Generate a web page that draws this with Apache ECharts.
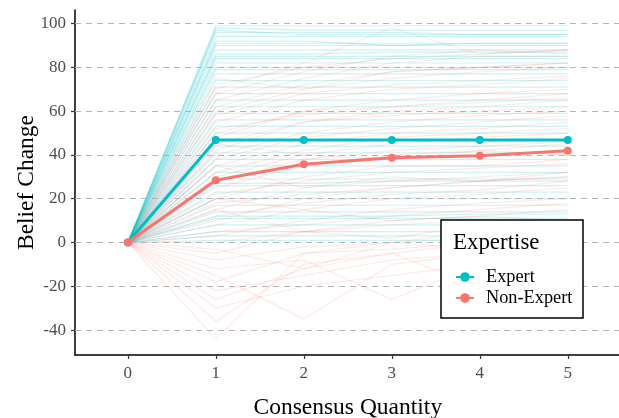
<!DOCTYPE html>
<html><head><meta charset="utf-8">
<script src="https://cdn.jsdelivr.net/npm/echarts@6/dist/echarts.min.js"></script>
<style>html,body{margin:0;padding:0;background:#fff}#c{width:619px;height:418px}</style>
</head><body><div id="c"></div>
<script>
const categories = [0, 1, 2, 3, 4, 5];
const yTicks = [-40, -20, 0, 20, 40, 60, 80, 100];
const expertMean = [0, 46.8, 46.8, 46.8, 46.8, 46.8];
const nonExpertMean = [0, 28.4, 35.7, 38.7, 39.6, 41.9];

const expertIndividuals = [
  [0,99,99,99,99,99],[0,98,97,97,97,97],[0,96,96,96,95,95],[0,94,94,94,94,94],
  [0,92,92,90,90,90],[0,90,90,90,91,91],[0,88,88,88,88,88],[0,86,86,87,87,87],
  [0,84,84,84,84,84],[0,82,82,82,82,82],[0,80,80,80,80,80],[0,77,77,77,77,77],
  [0,74,74,74,74,74],[0,71,71,71,71,71],[0,68,68,68,68,68],[0,65,65,65,65,65],
  [0,62,62,62,62,62],[0,59,59,59,59,59],[0,56,56,56,56,56],[0,53,53,53,53,53],
  [0,50,50,50,50,50],[0,47,47,47,47,47],[0,44,44,44,44,44],[0,41,41,41,41,41],
  [0,38,38,38,38,38],[0,35,35,35,35,35],[0,32,32,32,32,32],[0,29,29,29,29,29],
  [0,26,26,26,26,26],[0,23,23,23,23,23],[0,20,20,20,20,20],[0,17,17,17,17,17],
  [0,14,14,14,14,14],[0,11,11,11,11,11],[0,8,8,8,8,8],[0,5,5,5,5,5],
  [0,3,3,3,3,3],[0,1,1,1,1,1],[0,27,27,28,28,28],[0,12,12,12,13,13],
  [0,97,95,95,95,95],[0,91,91,91,91,91],[0,85,85,85,85,85],[0,79,79,79,79,79]
];

const nonExpertIndividuals = [
  [0,-44,-5,0,2,0],[0,-36,-10,-5,0,0],[0,-30,-20,-15,-10,-8],[0,-26,-12,0,5,5],
  [0,-22,-15,-8,-5,-2],[0,-18,-5,-3,0,0],[0,-15,-35,-10,-5,-3],[0,-12,-8,-26,-10,-5],
  [0,-8,-2,0,-3,0],[0,-5,5,8,10,10],[0,-3,-12,-5,-20,-8],[0,0,5,10,12,15],
  [0,3,10,15,18,20],[0,5,8,12,15,18],[0,8,15,20,22,25],[0,10,20,25,28,30],
  [0,12,18,22,24,28],[0,15,25,28,30,32],[0,18,22,25,28,30],[0,20,30,35,35,38],
  [0,22,28,32,34,36],[0,25,35,40,42,45],[0,28,38,42,44,46],[0,30,40,45,48,50],
  [0,32,42,48,50,52],[0,35,45,50,52,55],[0,38,48,52,55,58],[0,40,50,55,58,60],
  [0,42,55,60,62,65],[0,45,55,58,60,62],[0,48,60,62,64,66],[0,50,60,65,68,70],
  [0,52,58,62,65,68],[0,55,65,70,72,75],[0,58,68,72,74,76],[0,60,70,75,78,80],
  [0,62,72,78,80,82],[0,65,75,82,85,85],[0,68,78,85,88,86],[0,70,82,98,86,88],
  [0,72,80,84,86,88],[0,75,70,78,80,82],[0,20,15,10,12,10],[0,35,25,30,28,32],
  [0,15,5,2,8,5],[0,45,40,38,42,40]
];

const EXPERT = '#00BFC4', NONEXPERT = '#F8766D';
const serif = '"Liberation Serif","Times New Roman",serif';
const toPts = vals => categories.map((c, i) => [c, vals[i]]);

const series = [];
series.push({
  type: 'line', data: [], z: 0, silent: true,
  markLine: {
    silent: true, symbol: ['none','none'], label: {show: false},
    lineStyle: {color: '#b3b3b3', type: [6, 5], width: 1.2},
    data: yTicks.map(v => ({yAxis: v}))
  }
});
nonExpertIndividuals.forEach(v => series.push({
  type: 'line', name: 'ne', data: toPts(v), symbol: 'none', z: 1, silent: true,
  lineStyle: {color: NONEXPERT, width: 1.2, opacity: 0.16}
}));
expertIndividuals.forEach(v => series.push({
  type: 'line', name: 'ex', data: toPts(v), symbol: 'none', z: 1, silent: true,
  lineStyle: {color: EXPERT, width: 1.2, opacity: 0.2}
}));
series.push({
  type: 'line', name: 'Expert', data: toPts(expertMean), z: 5,
  symbol: 'circle', symbolSize: 8, itemStyle: {color: EXPERT},
  lineStyle: {color: EXPERT, width: 3}
});
series.push({
  type: 'line', name: 'Non-Expert', data: toPts(nonExpertMean), z: 6,
  symbol: 'circle', symbolSize: 8, itemStyle: {color: NONEXPERT},
  lineStyle: {color: NONEXPERT, width: 3}
});

const chart = echarts.init(document.getElementById('c'), null, {renderer: 'canvas'});
chart.setOption({
  animation: false,
  backgroundColor: '#fff',
  grid: {left: 75, right: -1.6, top: 10, bottom: 63, containLabel: false, outerBoundsMode: 'none'},
  xAxis: {
    type: 'value', min: -0.6, max: 5.6,
    name: 'Consensus Quantity', nameLocation: 'middle', nameGap: 41,
    nameTextStyle: {fontFamily: serif, fontSize: 23.5, color: '#000'},
    axisLine: {onZero: false, lineStyle: {color: '#000', width: 1.5}},
    axisTick: {show: true, length: 4, customValues: categories, lineStyle: {color: '#333', width: 1.2}},
    axisLabel: {customValues: categories, fontFamily: serif, fontSize: 17, color: '#4d4d4d', margin: 10},
    splitLine: {show: false}
  },
  yAxis: {
    type: 'value', min: -51.4, max: 106.2,
    name: 'Belief Change', nameLocation: 'middle', nameGap: 36, nameRotate: 90,
    nameMoveOverlap: false,
    nameTextStyle: {fontFamily: serif, fontSize: 23.5, color: '#000'},
    axisLine: {show: true, onZero: false, lineStyle: {color: '#000', width: 1.5}},
    axisTick: {show: true, length: 4, customValues: yTicks, lineStyle: {color: '#333', width: 1.2}},
    axisLabel: {customValues: yTicks, fontFamily: serif, fontSize: 17, color: '#4d4d4d', margin: 9},
    splitLine: {show: false}
  },
  legend: {
    data: ['Expert', 'Non-Expert'], orient: 'vertical', left: 450, top: 263,
    itemWidth: 18, itemHeight: 12, itemGap: 3,
    textStyle: {fontFamily: serif, fontSize: 18.3, color: '#000', padding: [0,0,0,7]},
    selectedMode: false, z: 101
  },
  graphic: [
    {type: 'rect', z: 100, shape: {x: 441, y: 220, width: 142, height: 98},
     style: {fill: '#fff', stroke: '#000', lineWidth: 1.5}},
    {type: 'text', z: 101, x: 453, y: 231,
     style: {text: 'Expertise', font: '22.9px ' + serif, fill: '#000'}}
  ],
  series: series
});
</script></body></html>
